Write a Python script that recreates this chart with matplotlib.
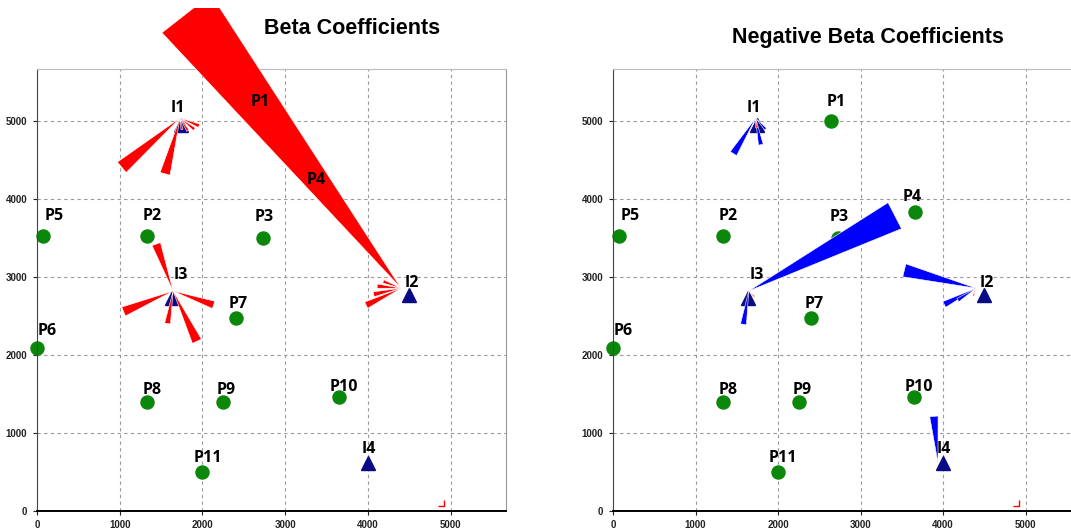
import numpy as np
import matplotlib.pyplot as plt
from matplotlib.patches import Polygon
from matplotlib.path import Path
from matplotlib.transforms import Bbox, TransformedBbox

# producer wells (green dots)
p_names = ['P1', 'P2', 'P3', 'P4', 'P5', 'P6', 'P7', 'P8', 'P9', 'P10', 'P11']
p_x = [2640, 1330, 2730, 3660, 70, 0, 2400, 1330, 2250, 3650, 2000]
p_y = [5000, 3530, 3500, 3830, 3520, 2090, 2480, 1400, 1400, 1455, 500]

# injector wells (navy triangles) and the hub each fan of wedges starts from
i_names = ['I1', 'I2', 'I3', 'I4']
i_x = [1741, 4498, 1632, 4002]
i_y = [4951, 2769, 2730, 612]
hub_x = [1729, 4401, 1645, 3939]
hub_y = [5040, 2856, 2820, 612]

# positive beta coefficients: injector, bearing (deg), magnitude (map units)
pos_station = ['I1', 'I1', 'I1', 'I1', 'I1', 'I1',
               'I3', 'I3', 'I3', 'I3', 'I3',
               'I2', 'I2', 'I2', 'I2', 'I2']
pos_angle = [220.2, 255, -22, -38, -58, -80,
             109.7, 202.5, -18.9, -99.6, -64.6,
             128.0, 206, 192.5, 159, 175]
pos_len = [925, 700, 250, 220, 180, 140,
           605, 650, 520, 400, 675,
           4230, 470, 340, 230, 290]

# negative beta coefficients
neg_station = ['I1', 'I1', 'I1', 'I3', 'I3', 'I2', 'I2', 'I2', 'I4']
neg_angle = [238, -79, -48, 27.3, -99, 166, 207, 213, 95]
neg_len = [510, 330, 180, 2000, 410, 900, 435, 265, 570]

# small positive leftovers visible on the negative map
small_station = ['I1', 'I3', 'I2']
small_angle = [-85, -45, -110]
small_len = [120, 100, 100]

stray_x = [4880]
stray_y = [100]

ticks = [0, 1000, 2000, 3000, 4000, 5000]
LIM = 5670
HALF = 5.1  # half opening angle of a wedge

# label nudges in pixels (dx, dy of label centre from the dot)
p_lab_off = {'P1': (5, 19), 'P2': (5, 20), 'P3': (1, 21), 'P4': (-3, 15),
             'P5': (11, 20), 'P6': (10, 17), 'P7': (3, 14), 'P8': (5, 12),
             'P9': (3, 12), 'P10': (5, 10), 'P11': (5, 14)}
i_lab_off = {'I1': (-3, 17), 'I2': (3, 12), 'I3': (9, 23), 'I4': (1, 14)}

GREEN = '#0b870b'
NAVY = '#0a0a85'

fig = plt.figure(figsize=(10.71, 5.29), dpi=100)
clip = TransformedBbox(Bbox([[0, 0], [1, 1 - 8 / 529]]), fig.transFigure)
PX = 72 / 100.0  # pixels -> points


def draw_wedges(ax, stations, angles, lengths, color, z):
    tr = ax.transData
    sx = ax.bbox.width / (ax.get_xlim()[1] - ax.get_xlim()[0])
    for st, ang, ln in zip(stations, angles, lengths):
        k = i_names.index(st)
        hx, hy = tr.transform((hub_x[k], hub_y[k]))
        r = ln * sx
        a1 = np.radians(ang - HALF)
        a2 = np.radians(ang + HALF)
        pts = [(hx, hy), (hx + r * np.cos(a1), hy + r * np.sin(a1)),
               (hx + r * np.cos(a2), hy + r * np.sin(a2))]
        pts = tr.inverted().transform(pts)
        poly = Polygon(pts, closed=True, fc=color, ec='white', lw=0.4, zorder=z)
        ax.add_patch(poly)
        poly.set_clip_box(clip)


def setup(ax):
    ax.set_xlim(0, LIM)
    ax.set_ylim(0, LIM)
    ax.set_xticks(ticks)
    ax.set_yticks(ticks)
    ax.grid(True, color='#9a9a9a', ls=(0, (3, 3)), lw=0.8, zorder=0)
    ax.tick_params(length=3, width=0.8, pad=4, labelsize=7, colors='#222222')
    for lab in ax.get_xticklabels() + ax.get_yticklabels():
        lab.set_fontweight('bold')
        lab.set_family('Liberation Sans')
    ax.spines['left'].set_color('#444444')
    ax.spines['bottom'].set_color('black')
    ax.spines['bottom'].set_linewidth(1.4)
    ax.spines['right'].set_color('#999999')
    ax.spines['top'].set_color('#bbbbbb')
    ax.set_axisbelow(True)


def draw_wells(ax, over=None):
    ax.plot(p_x, p_y, 'o', color=GREEN, ms=9.4, zorder=2, clip_on=False)
    ax.plot(i_x, i_y, '^', color=NAVY, ms=10.5, zorder=3, clip_on=False)
    over = over or {}
    for n, x, y in zip(p_names, p_x, p_y):
        dx, dy = over.get(n, p_lab_off[n])
        ax.annotate(n, (x, y), xytext=(dx * PX, dy * PX), textcoords='offset points',
                    ha='center', va='center', fontsize=11.5, fontweight='bold',
                    family='Open Sans', zorder=6, annotation_clip=False)
    for n, x, y in zip(i_names, i_x, i_y):
        dx, dy = i_lab_off[n]
        ax.annotate(n, (x, y), xytext=(dx * PX, dy * PX), textcoords='offset points',
                    ha='center', va='center', fontsize=11.5, fontweight='bold',
                    family='Open Sans', zorder=6, annotation_clip=False)


ax1 = fig.add_axes([37 / 1071, 18.3 / 529, 469 / 1071, 441.7 / 529])
setup(ax1)
draw_wells(ax1, over={'P4': (-24, 32)})
draw_wedges(ax1, pos_station, pos_angle, pos_len, '#ff0000', 4)

ax2 = fig.add_axes([613 / 1071, 18.3 / 529, 467.8 / 1071, 441.7 / 529])
setup(ax2)
draw_wells(ax2)
draw_wedges(ax2, neg_station, neg_angle, neg_len, '#0000ff', 4)
draw_wedges(ax2, small_station, small_angle, small_len, '#ff0000', 4.5)

hook = Path([(0.5, 0.5), (0.5, -0.5), (-0.5, -0.5)],
            [Path.MOVETO, Path.LINETO, Path.LINETO])
for ax in (ax1, ax2):
    ax.plot(stray_x, stray_y, ls='none', marker=hook, ms=4, mfc='none',
            mec='#ff0000', mew=1, zorder=4)

fig.text(352 / 1071, 1 - 28 / 529, 'Beta Coefficients', ha='center', va='center',
         fontsize=15.5, fontweight='bold', family='Liberation Sans')
fig.text(868 / 1071, 1 - 37 / 529, 'Negative Beta Coefficients', ha='center', va='center',
         fontsize=15.5, fontweight='bold', family='Liberation Sans')

fig.savefig('out.png', dpi=100)
